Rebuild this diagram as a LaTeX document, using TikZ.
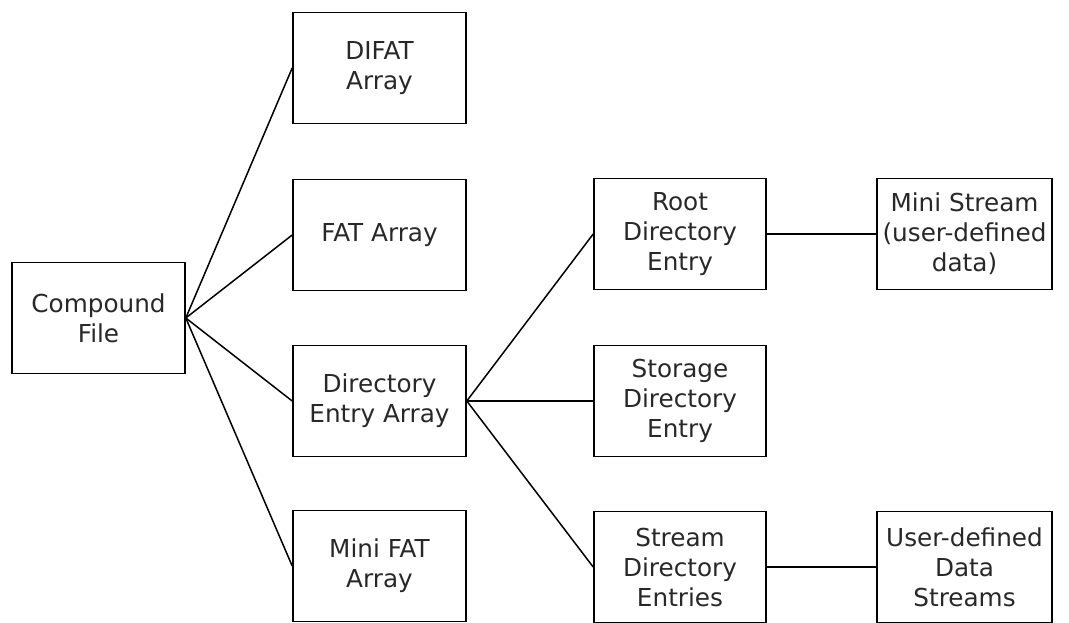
\documentclass[tikz,border=0pt]{standalone}
\usepackage{fontspec}
\setmainfont{DejaVu Sans}
\definecolor{txt}{RGB}{40,40,40}
\begin{document}
\begin{tikzpicture}[x=1pt,y=-1pt,
  box/.style={draw=black, line width=1.6pt, minimum width=173pt, minimum height=111pt,
    inner sep=0pt, align=center, text=txt,
    font=\fontsize{24.7}{30}\selectfont},
  link/.style={draw=black, line width=1.5pt}]
\useasboundingbox (0,0) rectangle (1069,622);
\node[box] (cf) at (98.5,318) {Compound\\File};
\node[box] (difat) at (379.5,68) {DIFAT\\Array};
\node[box] (fat) at (379.5,235) {FAT Array};
\node[box] (dir) at (379.5,401) {Directory\\Entry Array};
\node[box] (mfat) at (379.5,566) {Mini FAT\\Array};
\node[box, minimum width=172pt] (root) at (680,234) {Root\\Directory\\Entry};
\node[box, minimum width=172pt] (stor) at (680,401) {Storage\\Directory\\Entry};
\node[box, minimum width=172pt] (strm) at (680,567) {Stream\\Directory\\Entries};
\node[box, minimum width=175pt] (mini) at (964.5,234) {Mini Stream\\(user-defined\\data)};
\node[box, minimum width=175pt] (ud) at (964.5,567) {User-defined\\Data\\Streams};
\draw[link] (cf.east) -- (difat.west);
\draw[link] (cf.east) -- (fat.west);
\draw[link] (cf.east) -- (dir.west);
\draw[link] (cf.east) -- (mfat.west);
\draw[link] (dir.east) -- (root.west);
\draw[link] (dir.east) -- (stor.west);
\draw[link] (dir.east) -- (strm.west);
\draw[link] (root.east) -- (mini.west);
\draw[link] (strm.east) -- (ud.west);
\end{tikzpicture}
\end{document}
